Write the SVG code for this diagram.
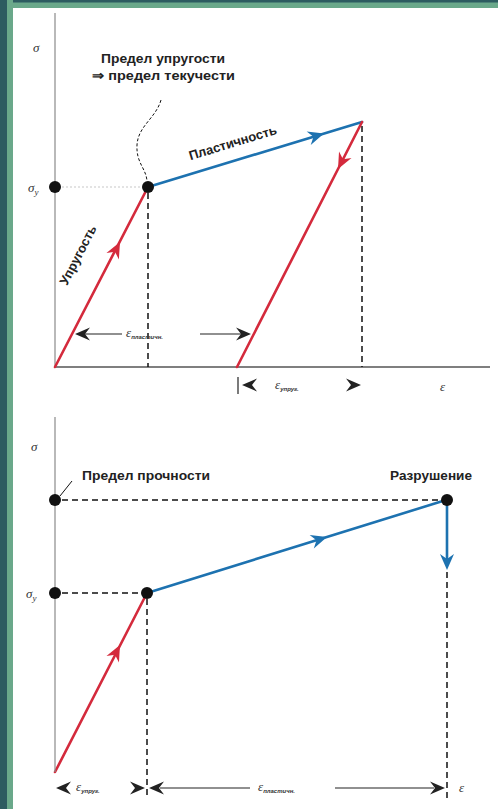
<svg xmlns="http://www.w3.org/2000/svg" xmlns:xlink="http://www.w3.org/1999/xlink" width="498" height="809" viewBox="0 0 498 809">
<style>
.axis{stroke:#8a8a8a;stroke-width:1.2;fill:none}
.xaxis{stroke:#555;stroke-width:1.6;fill:none}
.red{stroke:#d42a3c;stroke-width:2.6;fill:none;stroke-linecap:round}
.blue{stroke:#1d72b0;stroke-width:2.6;fill:none;stroke-linecap:round}
.dash{stroke:#111;stroke-width:1.5;stroke-dasharray:6,4;fill:none}
.dotg{stroke:#c8c8c8;stroke-width:1.2;stroke-dasharray:2,2;fill:none}
.thin{stroke:#111;stroke-width:1;fill:none}
.dim{stroke:#222;stroke-width:1.2;fill:none}
.dot{fill:#111}
.lbl{font-family:"Liberation Sans",Arial,sans-serif;font-weight:bold;font-size:13px;fill:#222}
.sym{font-family:"Liberation Serif","Times New Roman",serif;font-style:italic;font-size:13px;fill:#333}
.sub{font-family:"Liberation Sans",Arial,sans-serif;font-size:6px;fill:#333;font-weight:bold}
</style>
<defs>
<path id="ah" d="M0,0 L-16,-7 L-11,0 L-16,7 Z"/>
<path id="dh" d="M0,0 L-15,-6.5 L-10,0 L-15,6.5 Z"/>
</defs>
<rect x="0" y="0" width="498" height="809" fill="#ffffff"/>
<rect x="0" y="0" width="498" height="8" fill="#6aa88a"/>
<rect x="0" y="0" width="498" height="2.5" fill="#2d5b60"/>
<rect x="0" y="0" width="13" height="809" fill="#6aa88a"/>
<rect x="0" y="0" width="7" height="809" fill="#2d5b60"/>

<g id="top-axes">
<line class="axis" x1="55" y1="13" x2="55" y2="367"/>
<line class="xaxis" x1="55" y1="367" x2="490" y2="367"/>
<text class="sym" x="33" y="52">σ</text>
<text class="sym" x="440" y="391">ε</text>
</g>

<g id="connectors">
<line class="dotg" x1="62" y1="187" x2="142" y2="187"/>
<line class="dash" x1="148" y1="193" x2="148" y2="367"/>
<line class="dash" x1="362" y1="126" x2="362" y2="367"/>
<path class="thin" stroke-dasharray="3,2" d="M161,100 C156,118 138,126 137,145 C136,163 146,168 147,181"/>
<line class="red" x1="55" y1="367" x2="148" y2="187"/>
<use href="#ah" fill="#d42a3c" transform="translate(120,242) rotate(-62.7)"/>
<line class="blue" x1="148" y1="187" x2="362" y2="122"/>
<use href="#ah" fill="#1d72b0" transform="translate(324,133.6) rotate(-16.9)"/>
<line class="red" x1="362" y1="122" x2="237" y2="367"/>
<use href="#ah" fill="#d42a3c" transform="translate(338,169) rotate(117)"/>
<line class="dim" x1="80" y1="334" x2="122" y2="334"/>
<line class="dim" x1="200" y1="334" x2="246" y2="334"/>
<use href="#dh" fill="#222" transform="translate(75,334) rotate(180)"/>
<use href="#dh" fill="#222" transform="translate(251,334)"/>
<line class="dim" x1="238" y1="377" x2="238" y2="394"/>
<use href="#dh" fill="#222" transform="translate(242,385) rotate(180)"/>
<use href="#dh" fill="#222" transform="translate(361,385)"/>

<line class="dash" x1="62" y1="500" x2="440" y2="500"/>
<line class="dash" x1="62" y1="593" x2="141" y2="593"/>
<line class="dash" x1="147" y1="599" x2="147" y2="798"/>
<line class="dash" x1="447" y1="572" x2="447" y2="798"/>
<line class="thin" x1="60" y1="496" x2="72" y2="481"/>
<line class="red" x1="55" y1="772" x2="147" y2="593"/>
<use href="#ah" fill="#d42a3c" transform="translate(120,645) rotate(-62.9)"/>
<line class="blue" x1="147" y1="593" x2="446" y2="500"/>
<use href="#ah" fill="#1d72b0" transform="translate(327,537) rotate(-17.3)"/>
<line class="blue" x1="447" y1="500" x2="447" y2="560"/>
<use href="#ah" fill="#1d72b0" transform="translate(447,570) rotate(90)"/>
<use href="#dh" fill="#222" transform="translate(56,788) rotate(180)"/>
<use href="#dh" fill="#222" transform="translate(145,788)"/>
<use href="#dh" fill="#222" transform="translate(149,788) rotate(180)"/>
<line class="dim" x1="160" y1="788" x2="250" y2="788"/>
<line class="dim" x1="335" y1="788" x2="434" y2="788"/>
<use href="#dh" fill="#222" transform="translate(445,788)"/>
</g>

<g id="top-labels">
<text class="lbl" x="101" y="63" textLength="124" lengthAdjust="spacingAndGlyphs">Предел упругости</text>
<text class="lbl" x="92" y="80" textLength="143" lengthAdjust="spacingAndGlyphs">⇒ предел текучести</text>
<text class="sym" x="28" y="192">σ<tspan font-size="9" dy="3">y</tspan></text>
<text class="lbl" x="0" y="0" transform="translate(82,257) rotate(-62.7)" text-anchor="middle" font-size="11.5">Упругость</text>
<text class="lbl" x="0" y="0" transform="translate(234,147) rotate(-16.9)" text-anchor="middle" font-size="11.5" fill="#1d5f93">Пластичность</text>
<text class="sym" x="126" y="337">ε<tspan class="sub" dy="2">пластичн.</tspan></text>
<text class="sym" x="275" y="389">ε<tspan class="sub" dy="2">упруг.</tspan></text>
</g>

<g id="top-nodes">
<circle id="sigma-y-top" class="dot" cx="55" cy="187" r="6"/>
<circle id="yield-top" class="dot" cx="148" cy="187" r="6"/>
</g>

<g id="bottom-axes">
<line class="axis" x1="55" y1="417" x2="55" y2="772"/>
<text class="sym" x="31" y="451">σ</text>
<text class="sym" x="459" y="792">ε</text>
</g>

<g id="bottom-labels">
<text class="lbl" x="82" y="480" textLength="128" lengthAdjust="spacingAndGlyphs">Предел прочности</text>
<text class="lbl" x="390" y="480" textLength="82" lengthAdjust="spacingAndGlyphs">Разрушение</text>
<text class="sym" x="26" y="598">σ<tspan font-size="9" dy="3">y</tspan></text>
<text class="sym" x="76" y="791">ε<tspan class="sub" dy="2">упруг.</tspan></text>
<text class="sym" x="258" y="791">ε<tspan class="sub" dy="2">пластичн.</tspan></text>
</g>

<g id="bottom-nodes">
<circle id="ultimate" class="dot" cx="55" cy="500" r="6"/>
<circle id="fracture" class="dot" cx="447" cy="500" r="6"/>
<circle id="sigma-y-bottom" class="dot" cx="55" cy="593" r="6"/>
<circle id="yield-bottom" class="dot" cx="147" cy="593" r="6"/>
</g>
</svg>
